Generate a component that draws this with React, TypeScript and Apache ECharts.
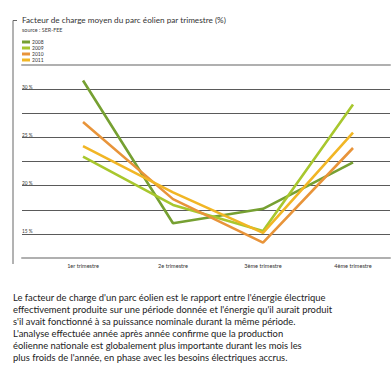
import React, { useEffect, useRef } from "react";
import * as echarts from "echarts";

// Quarterly categories and yearly load-factor values (%)
const quarters = ["1er trimestre", "2e trimestre", "3ème trimestre", "4ème trimestre"];
const years = ["2008", "2009", "2010", "2011"];
const values2008 = [30.9, 16.1, 17.6, 22.4];
const values2009 = [23.0, 18.0, 15.3, 28.4];
const values2010 = [26.6, 18.6, 14.1, 23.9];
const values2011 = [24.1, 19.3, 15.1, 25.5];
const yTickLabels = [15, 20, 25, 30];

const seriesValues = [values2008, values2009, values2010, values2011];
const seriesColors = ["#76a032", "#a8c72e", "#e8943a", "#f1b625"];

const titleText = "Facteur de charge moyen du parc éolien par trimestre (%)";
const sourceText = "source : SER-FEE";
const paragraph = [
  "Le facteur de charge d'un parc éolien est le rapport entre l'énergie électrique",
  "effectivement produite sur une période donnée et l'énergie qu'il aurait produit",
  "s'il avait fonctionné à sa puissance nominale durant la même période.",
  "L'analyse effectuée année après année confirme que la production",
  "éolienne nationale est globalement plus importante durant les mois les",
  "plus froids de l'année, en phase avec les besoins électriques accrus.",
];

const FONT = "Lato, 'Open Sans', sans-serif";

export default function App() {
  const ref = useRef<HTMLDivElement>(null);

  useEffect(() => {
    document.body.style.margin = "0";
    if (!ref.current) return;
    const chart = echarts.init(ref.current, undefined, { renderer: "svg" });

    const option: echarts.EChartsOption = {
      animation: false,
      backgroundColor: "#ffffff",
      textStyle: { fontFamily: FONT },
      grid: { left: 22, right: 1, top: 65, height: 193, containLabel: false },
      legend: {
        orient: "vertical",
        left: 22,
        top: 39,
        itemWidth: 8,
        itemHeight: 3,
        itemGap: 0,
        padding: 0,
        icon: "rect",
        data: years,
        textStyle: { fontSize: 5, lineHeight: 6, color: "#333", fontFamily: FONT, padding: [0, 0, 0, -3] },
      },
      xAxis: [
        {
          type: "value",
          min: -0.678,
          max: 3.411,
          position: "bottom",
          splitLine: { show: false },
          axisLine: { show: true, onZero: false, lineStyle: { color: "#b0b0b0", width: 2 } },
          axisTick: { show: false },
          axisLabel: {
            customValues: [0, 1, 2, 3],
            formatter: (v: number) => quarters[Math.round(v)] ?? "",
            fontSize: 5.6,
            color: "#333",
            margin: 4,
            fontFamily: FONT,
          },
        } as any,
        {
          type: "value",
          min: -0.678,
          max: 3.411,
          position: "top",
          splitLine: { show: false },
          axisLine: { show: true, onZero: false, lineStyle: { color: "#b0b0b0", width: 2 } },
          axisTick: { show: false },
          axisLabel: { show: false },
        },
      ],
      yAxis: {
        type: "value",
        min: 12.5,
        max: 32.5,
        interval: 2.5,
        axisLine: { show: false },
        axisTick: { show: false },
        splitLine: { show: true, lineStyle: { color: "#5a5a5a", width: 1 } },
        axisLabel: {
          inside: true,
          verticalAlign: "bottom",
          align: "left",
          margin: 0,
          fontSize: 4.8,
          color: "#333",
          fontFamily: FONT,
          formatter: (v: number) => (yTickLabels.includes(v) ? `${v} %` : ""),
        },
      },
      series: years.map((name, i) => ({
        name,
        type: "line",
        xAxisIndex: 0,
        data: seriesValues[i].map((v, q) => [q, v]),
        symbol: "none",
        color: seriesColors[i],
        lineStyle: { width: 2.6, color: seriesColors[i] },
        itemStyle: { color: seriesColors[i] },
        z: 3 + i,
      })),
      graphic: [
        {
          type: "polyline",
          shape: { points: [[17, 20.5], [13, 20.5], [13, 264]] },
          style: { stroke: "#666", lineWidth: 1, fill: "none" },
        },
        {
          type: "text",
          x: 22,
          y: 19.5,
          style: { text: titleText, fontSize: 8.2, fill: "#333", fontFamily: FONT, verticalAlign: "middle" },
        },
        {
          type: "text",
          x: 22,
          y: 29.5,
          style: { text: sourceText, fontSize: 5.4, fill: "#444", fontFamily: FONT, verticalAlign: "middle" },
        },
        ...paragraph.map((line, i) => ({
          type: "text" as const,
          x: 13,
          y: 297.5 + i * 12,
          style: { text: line, fontSize: 9.4, fill: "#222", fontFamily: FONT, verticalAlign: "middle" as const },
        })),
      ],
    };

    chart.setOption(option);
    return () => chart.dispose();
  }, []);

  return <div ref={ref} style={{ width: 391, height: 371 }} />;
}
